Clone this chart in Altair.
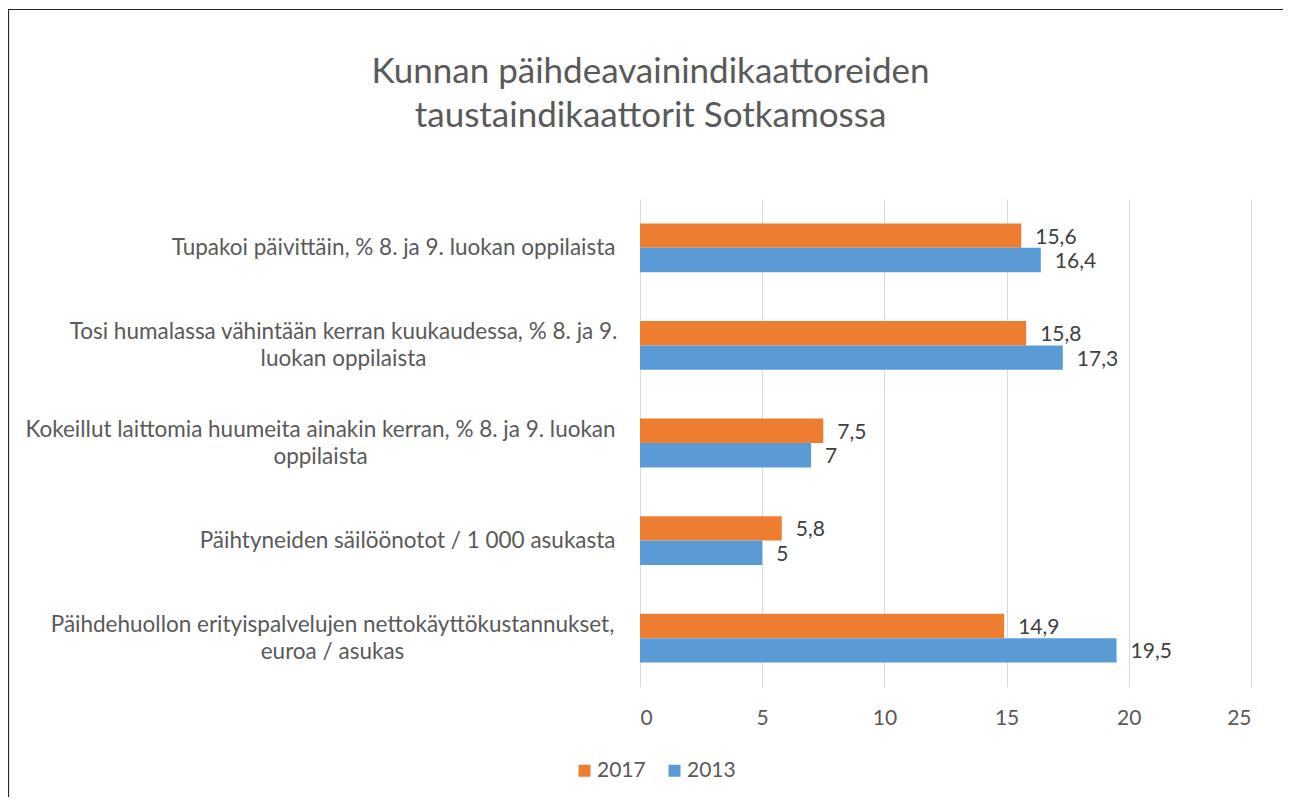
import altair as alt
import pandas as pd

# ---------------- data ----------------
categories = [
    "Tupakoi päivittäin, % 8. ja 9. luokan oppilaista",
    "Tosi humalassa vähintään kerran kuukaudessa, % 8. ja 9.\nluokan oppilaista",
    "Kokeillut laittomia huumeita ainakin kerran, % 8. ja 9. luokan\noppilaista",
    "Päihtyneiden säilöönotot / 1 000 asukasta",
    "Päihdehuollon erityispalvelujen nettokäyttökustannukset,\neuroa / asukas",
]
years = ["2017", "2013"]
values_2017 = [15.6, 15.8, 7.5, 5.8, 14.9]
values_2013 = [16.4, 17.3, 7.0, 5.0, 19.5]
x_ticks = [0, 5, 10, 15, 20, 25]
title_lines = ["Kunnan päihdeavainindikaattoreiden", "taustaindikaattorit Sotkamossa"]

rows = []
for c, a, b in zip(categories, values_2017, values_2013):
    rows.append({"category": c, "year": "2017", "value": a})
    rows.append({"category": c, "year": "2013", "value": b})
df = pd.DataFrame(rows)

# ---------------- style / layout ----------------
PLOT_W, PLOT_H = 611, 488
PAD_L, PAD_T, PAD_R, PAD_B = 632, 191, 32, 110
FONT = "Lato"
TEXT = "#595959"
ORANGE = "#ED7D31"
BLUE = "#5B9BD5"
CAT_SIZE = 22.5
LABEL_SIZE = 21

y_enc = alt.Y(
    "category:N",
    sort=categories,
    title=None,
    scale=alt.Scale(paddingInner=0.5, paddingOuter=0.25),
    axis=alt.Axis(
        labelExpr="split(datum.label, '\\n')",
        labelAlign={"condition": {"test": "indexof(datum.label, '\\n') >= 0", "value": "center"}, "value": "right"},
        labelPadding=alt.ExprRef(
            "indexof(datum.value, 'Tosi') == 0 ? 297 : "
            "indexof(datum.value, 'Kokeillut') == 0 ? 320 : "
            "indexof(datum.value, 'Päihdehuollon') == 0 ? 308 : 25"
        ),
        labelOffset=alt.ExprRef("indexof(datum.label, '\\n') >= 0 ? -13 : 0"),
        labelFont=FONT,
        labelFontSize=CAT_SIZE,
        labelColor=TEXT,
        labelLineHeight=27,
        labelLimit=700,
        ticks=False,
        domain=False,
        grid=False,
    ),
)

x_enc = alt.X(
    "value:Q",
    title=None,
    scale=alt.Scale(domain=[0, 25], nice=False),
    axis=alt.Axis(
        values=x_ticks,
        labelFont=FONT,
        labelFontSize=LABEL_SIZE,
        labelColor=TEXT,
        labelPadding=20,
        ticks=False,
        domain=False,
        grid=True,
        gridColor="#D9D9D9",
        gridWidth=1,
    ),
)

color_enc = alt.Color(
    "year:N",
    sort=years,
    scale=alt.Scale(domain=years, range=[ORANGE, BLUE]),
    legend=alt.Legend(
        orient="none",
        legendX=-66,
        legendY=561,
        direction="horizontal",
        title=None,
        symbolType="square",
        symbolSize=144,
        symbolStrokeWidth=0,
        labelFont=FONT,
        labelFontSize=LABEL_SIZE,
        labelColor=TEXT,
        labelOffset=2,
        columnPadding=18,
    ),
)

base = alt.Chart(df)

bars = base.mark_bar().encode(
    y=y_enc,
    yOffset=alt.YOffset("year:N", sort=years),
    x=x_enc,
    color=color_enc,
)

labels = base.transform_calculate(
    txt="replace(format(datum.value, '.1~f'), '.', ',')"
).mark_text(
    align="left", baseline="middle", dx=14, dy=2,
    font=FONT, fontSize=LABEL_SIZE, color="#404040",
).encode(
    y=alt.Y("category:N", sort=categories),
    yOffset=alt.YOffset("year:N", sort=years),
    x=alt.X("value:Q"),
    text="txt:N",
)

# chart border (only the left and top edges fall inside the picture)
frame_src = alt.Chart(pd.DataFrame({"f": [0]}))
frame_left = frame_src.mark_rule(stroke="#262626", strokeWidth=1.2).encode(
    x=alt.value(-PAD_L + 0.5),
    y=alt.value(-PAD_T + 1),
    y2=alt.value(PLOT_H + PAD_B),
)
frame_top = frame_src.mark_rule(stroke="#262626", strokeWidth=1.2).encode(
    x=alt.value(-PAD_L),
    x2=alt.value(PLOT_W + PAD_R),
    y=alt.value(-PAD_T + 1.5),
)

chart = alt.layer(frame_left, frame_top, bars, labels).properties(
    width=PLOT_W,
    height=PLOT_H,
    title=alt.TitleParams(
        text=title_lines,
        anchor="middle",
        frame="group",
        dx=-295,
        offset=-161,
        baseline="bottom",
        font=FONT,
        fontSize=35,
        fontWeight="normal",
        color=TEXT,
        lineHeight=44,
    ),
    padding={"left": PAD_L, "top": PAD_T, "right": PAD_R, "bottom": PAD_B},
    autosize=alt.AutoSizeParams(type="none"),
).configure_view(stroke=None)

chart.save("out.html", embed_options={"renderer": "svg", "actions": False})
